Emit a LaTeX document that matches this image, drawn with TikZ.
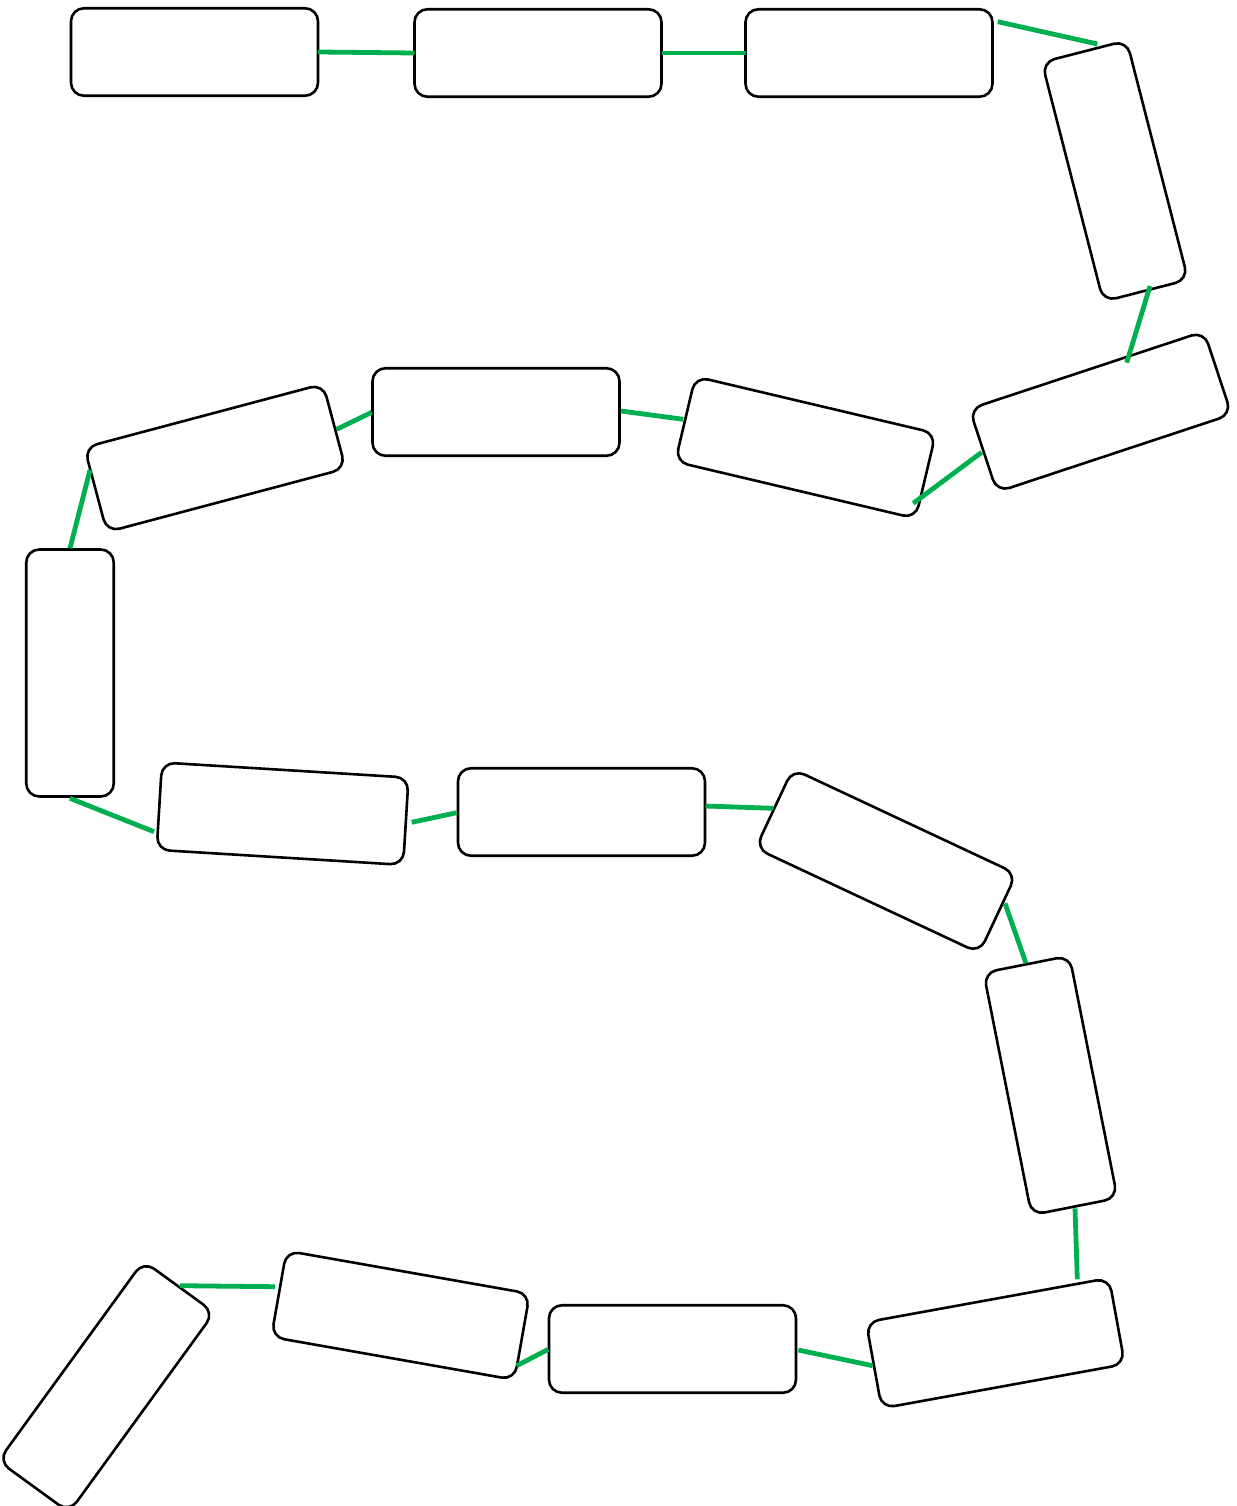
\documentclass[tikz,border=0pt]{standalone}
\usepackage{tikz}
\definecolor{linkgreen}{RGB}{0,176,80}
\begin{document}
\begin{tikzpicture}[x=1pt,y=-1pt,
  box/.style={draw=black, line width=2.6pt, rounded corners=13pt, minimum width=247pt, minimum height=87.5pt, inner sep=0pt, outer sep=0pt},
  link/.style={draw=linkgreen, line width=4.8pt}]
\useasboundingbox (0,0) rectangle (1236,1506);
% boxes
\node[box] (A) at (194.5,52) {};
\node[box] (B) at (538,53) {};
\node[box] (C) at (869,53) {};
\node[box, rotate=-75.6] (D) at (1115,171) {};
\node[box, rotate=18.3] (E) at (1100.5,411.7) {};
\node[box, rotate=-13.3] (F) at (805.5,447.5) {};
\node[box] (G) at (496,412) {};
\node[box, rotate=14.9] (H) at (215,458) {};
\node[box, rotate=90] (I) at (70,673) {};
\node[box, rotate=-3.5] (J) at (282.6,813.7) {};
\node[box] (K) at (581.5,812) {};
\node[box, rotate=-25.1] (L) at (886,861) {};
\node[box, rotate=-78.8] (M) at (1050.5,1085.4) {};
\node[box, rotate=10.3] (N) at (995.4,1343.2) {};
\node[box] (O) at (672.5,1349) {};
\node[box, rotate=-10] (P) at (400.5,1315.3) {};
\node[box, rotate=54] (Q) at (106.3,1386.7) {};
% connector ends
\coordinate (cd1) at (997.7,21.7);  \coordinate (cd2) at (1097.3,44);
\coordinate (de1) at (1150,286);    \coordinate (de2) at (1126.7,362.7);
\coordinate (ef1) at (981.7,452.3); \coordinate (ef2) at (913.3,503.3);
\coordinate (fg1) at (683.3,419.3); \coordinate (fg2) at (621,411);
\coordinate (gh1) at (371.7,412.3); \coordinate (gh2) at (336.7,429.3);
\coordinate (hi1) at (90,470);      \coordinate (hi2) at (70,548.3);
\coordinate (ij1) at (70,798.3);    \coordinate (ij2) at (154,831.7);
\coordinate (jk1) at (411.7,822.3); \coordinate (jk2) at (456.7,812.7);
\coordinate (kl1) at (705.5,806);   \coordinate (kl2) at (773.3,808.3);
\coordinate (lm1) at (1005,903.3);  \coordinate (lm2) at (1026,963.3);
\coordinate (mn1) at (1075,1208.3); \coordinate (mn2) at (1077.3,1279.3);
\coordinate (no1) at (872.7,1365.7);\coordinate (no2) at (798.3,1350);
\coordinate (op1) at (548.3,1349.3);\coordinate (op2) at (516.7,1365.7);
\coordinate (pq1) at (275,1286.7);  \coordinate (pq2) at (180,1285.7);
% connectors
\draw[link] (A.east) -- (B.west);
\draw[link] (B.east) -- (C.west);
\draw[link] (cd1) -- (cd2);
\draw[link] (de1) -- (de2);
\draw[link] (ef1) -- (ef2);
\draw[link] (fg1) -- (fg2);
\draw[link] (gh1) -- (gh2);
\draw[link] (hi1) -- (hi2);
\draw[link] (ij1) -- (ij2);
\draw[link] (jk1) -- (jk2);
\draw[link] (kl1) -- (kl2);
\draw[link] (lm1) -- (lm2);
\draw[link] (mn1) -- (mn2);
\draw[link] (no1) -- (no2);
\draw[link] (op1) -- (op2);
\draw[link] (pq1) -- (pq2);
\end{tikzpicture}
\end{document}
